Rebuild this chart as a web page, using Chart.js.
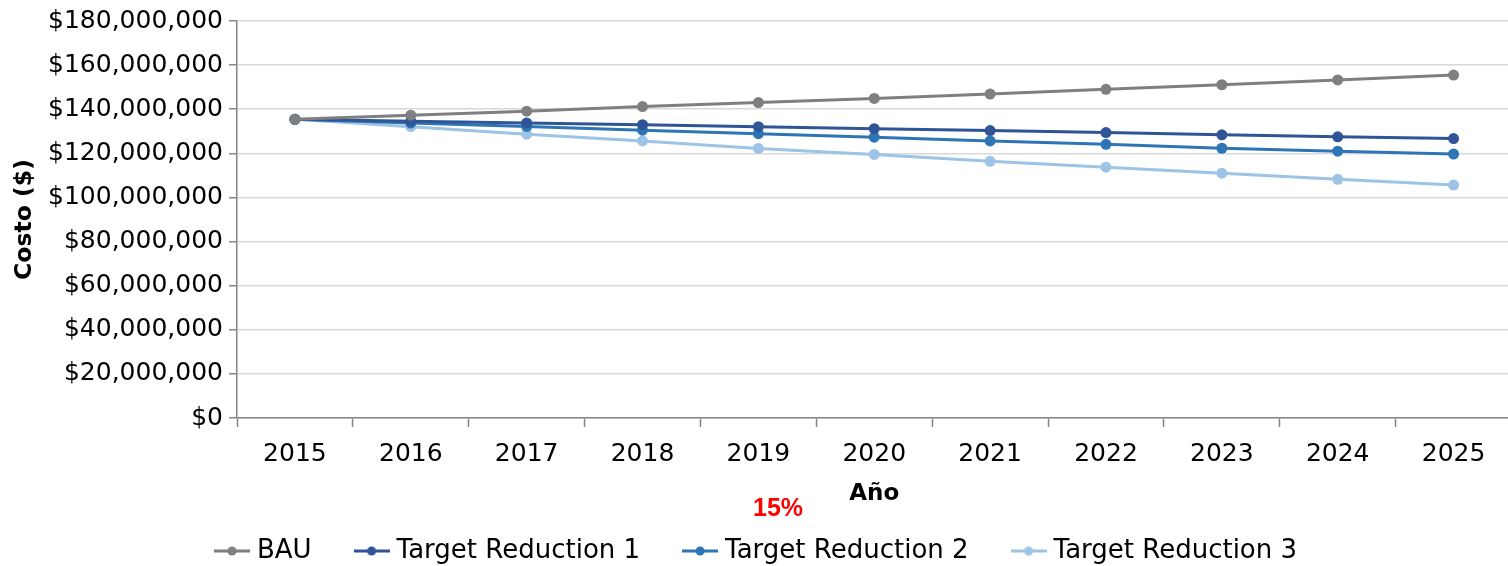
<!DOCTYPE html>
<html>
<head>
<meta charset="utf-8">
<script src="https://cdn.jsdelivr.net/npm/chart.js@4.4.1/dist/chart.umd.min.js"></script>
<style>
  html, body { margin: 0; padding: 0; background: #fff; overflow: hidden; }
  /* a little wider than the window: the last category is cut at the right edge, as in the original */
  #wrap { width: 1517px; height: 566px; position: relative; }
</style>
</head>
<body>
<div id="wrap"><canvas id="chart"></canvas></div>
<script>
'use strict';

// data (millions of $)
const years = ['2015', '2016', '2017', '2018', '2019', '2020', '2021', '2022', '2023', '2024', '2025'];
const bau = [135.4, 137.3, 139.1, 141.2, 143.0, 144.9, 146.9, 149.0, 151.1, 153.3, 155.5];
const target1 = [135.4, 134.6, 133.8, 133.0, 132.1, 131.2, 130.3, 129.4, 128.4, 127.5, 126.7];
const target2 = [135.4, 133.7, 132.2, 130.5, 128.9, 127.3, 125.6, 124.1, 122.3, 121.0, 119.7];
const target3 = [135.4, 132.1, 128.7, 125.6, 122.2, 119.5, 116.4, 113.7, 111.0, 108.2, 105.6];
const seriesNames = ['BAU', 'Target Reduction 1', 'Target Reduction 2', 'Target Reduction 3'];
const seriesColors = ['#7f7f7f', '#2f5597', '#2e75b6', '#9dc3e6'];
const yTicks = [0, 20, 40, 60, 80, 100, 120, 140, 160, 180];

const tickFont = { family: 'DejaVu Sans', size: 25 };

// legend marker: short line with a dot in the middle
function legendMarker(color) {
  const c = document.createElement('canvas');
  c.width = 36;
  c.height = 12;
  const ctx = c.getContext('2d');
  ctx.strokeStyle = color;
  ctx.lineWidth = 3;
  ctx.beginPath();
  ctx.moveTo(0, 6);
  ctx.lineTo(36, 6);
  ctx.stroke();
  ctx.fillStyle = color;
  ctx.beginPath();
  ctx.arc(18, 6, 4.5, 0, Math.PI * 2);
  ctx.fill();
  return c;
}

const allData = [bau, target1, target2, target3];
const datasets = allData.map((values, i) => {
  return {
    label: seriesNames[i],
    data: values.map((v) => v * 1e6),
    borderColor: seriesColors[i],
    backgroundColor: seriesColors[i],
    borderWidth: 3,
    pointRadius: 5.5,
    pointBorderWidth: 0,
    pointStyle: 'circle',
    legendMarker: legendMarker(seriesColors[i]),
    tension: 0,
  };
});

const noteText = {
  id: 'noteText',
  afterDraw(chart) {
    const ctx = chart.ctx;
    ctx.save();
    ctx.fillStyle = '#ff0000';
    ctx.font = 'bold 25px "Liberation Sans"';
    ctx.textAlign = 'center';
    ctx.textBaseline = 'middle';
    ctx.fillText('15%', 778, 509);
    ctx.restore();
  },
};

new Chart(document.getElementById('chart'), {
  type: 'line',
  data: { labels: years, datasets: datasets },
  options: {
    responsive: true,
    maintainAspectRatio: false,
    animation: false,
    layout: { padding: { top: 18, right: 0, bottom: 0, left: 0 } },
    plugins: {
      tooltip: { enabled: false },
      legend: {
        position: 'bottom',
        maxHeight: 76,
        labels: {
          usePointStyle: true,
          pointStyleWidth: 24,
          padding: 48,
          color: '#000',
          font: { family: 'DejaVu Sans', size: 26 },
          generateLabels: function (chart) {
            return chart.data.datasets.map((ds, i) => {
              return {
                text: ds.label,
                pointStyle: ds.legendMarker,
                fillStyle: ds.borderColor,
                strokeStyle: ds.borderColor,
                lineWidth: 0,
                fontColor: '#000',
                datasetIndex: i,
                hidden: false,
              };
            });
          },
        },
      },
    },
    scales: {
      x: {
        type: 'category',
        offset: true,
        afterFit: function (scale) {
          scale.height = 72;
        },
        grid: {
          offset: true,
          drawOnChartArea: false,
          drawTicks: true,
          tickLength: 9,
          tickColor: '#868686',
          tickWidth: 1.5,
        },
        border: { color: '#868686', width: 1.5 },
        ticks: { color: '#000', font: tickFont, padding: 12, maxRotation: 0 },
        title: {
          display: true,
          text: 'Año',
          color: '#000',
          font: { family: 'DejaVu Sans', size: 23, weight: 'bold' },
          padding: { top: 0, bottom: -18 },
        },
      },
      y: {
        min: 0,
        max: 180e6,
        afterFit: function (scale) {
          scale.width = 237;
        },
        afterBuildTicks: function (scale) {
          scale.ticks = yTicks.map((v) => ({ value: v * 1e6 }));
        },
        grid: {
          color: '#d9d9d9',
          lineWidth: 1.5,
          drawTicks: true,
          tickLength: 8,
          tickColor: '#868686',
        },
        border: { color: '#868686', width: 1.5 },
        ticks: {
          color: '#000',
          font: tickFont,
          padding: 6,
          callback: function (value) {
            return '$' + Number(value).toLocaleString('en-US');
          },
        },
        title: {
          display: true,
          text: 'Costo ($)',
          color: '#000',
          font: { family: 'DejaVu Sans', size: 23.5, weight: 'bold' },
          padding: { top: 11, bottom: 0 },
        },
      },
    },
  },
  plugins: [noteText],
});
</script>
</body>
</html>
